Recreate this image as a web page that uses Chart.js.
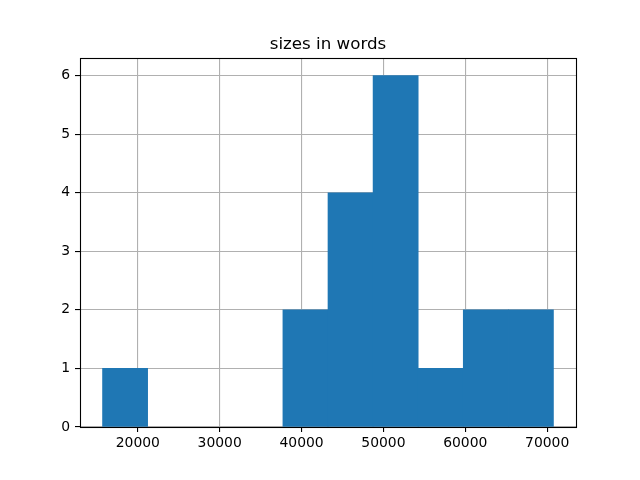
<!DOCTYPE html>
<html lang="en">
<head>
  <meta charset="UTF-8">
  <title>sizes in words</title>
  <script src="https://cdn.jsdelivr.net/npm/chart.js"></script>
  <style>
    body {
      margin: 0;
      padding: 0;
      background-color: white;
    }
    #chartContainer {
      width: 640px;
      height: 480px;
    }
  </style>
</head>
<body>

  <div id="chartContainer">
    <canvas id="histChart" width="640" height="480"></canvas>
  </div>

  <script>
    // histogram bins
    const binEdges = [15690, 21198, 26706, 32214, 37722, 43230, 48738, 54246, 59754, 65262, 70770];
    const binCounts = [1, 0, 0, 0, 2, 4, 6, 1, 2, 2];
    const xTicks = [20000, 30000, 40000, 50000, 60000, 70000];
    const yTicks = [0, 1, 2, 3, 4, 5, 6];
    const chartTitle = "sizes in words";

    // empty bins get no bar at all
    const points = binCounts.map((c, i) => ({
      x: (binEdges[i] + binEdges[i + 1]) / 2,
      y: c === 0 ? null : c
    }));

    Chart.defaults.color = '#000';
    Chart.defaults.font.family = "'DejaVu Sans', sans-serif";
    Chart.defaults.font.size = 13.9;

    // box round the plot like matplotlib spines, plus title centred on the axes
    const frame = {
      id: 'frame',
      afterDraw(chart) {
        const a = chart.chartArea;
        const ctx = chart.ctx;
        ctx.save();
        ctx.strokeStyle = '#000';
        ctx.lineWidth = 1.1;
        ctx.strokeRect(Math.round(a.left) + 0.5, Math.round(a.top) + 0.5,
          Math.round(a.right - a.left), Math.round(a.bottom - a.top));
        ctx.fillStyle = '#000';
        ctx.font = "16.7px 'DejaVu Sans', sans-serif";
        ctx.textAlign = 'center';
        ctx.textBaseline = 'alphabetic';
        ctx.fillText(chartTitle, (a.left + a.right) / 2, a.top - 9);
        ctx.restore();
      }
    };

    const span = binEdges[binEdges.length - 1] - binEdges[0];

    new Chart(document.getElementById('histChart'), {
      type: 'bar',
      data: {
        datasets: [{
          data: points,
          backgroundColor: '#1f77b4',
          borderWidth: 0,
          barPercentage: 1,
          categoryPercentage: 1
        }]
      },
      options: {
        responsive: false,
        animation: false,
        events: [],
        layout: {
          padding: { top: 58, right: 64, bottom: 0, left: 0 }
        },
        plugins: {
          legend: { display: false },
          tooltip: { enabled: false },
          title: { display: false }
        },
        scales: {
          x: {
            type: 'linear',
            offset: false,
            z: 1,
            min: binEdges[0] - span * 0.05,
            max: binEdges[binEdges.length - 1] + span * 0.05,
            afterBuildTicks: scale => { scale.ticks = xTicks.map(v => ({ value: v })); },
            afterFit: scale => { scale.height = 53; },
            grid: {
              offset: false,
              color: '#b0b0b0',
              lineWidth: 1.1,
              tickColor: '#000',
              tickLength: 5
            },
            border: { display: false },
            ticks: {
              padding: 3,
              maxRotation: 0,
              callback: v => String(v)
            }
          },
          y: {
            z: 1,
            min: 0,
            max: 6.3,
            afterBuildTicks: scale => { scale.ticks = yTicks.map(v => ({ value: v })); },
            afterFit: scale => { scale.width = 80; },
            grid: {
              color: '#b0b0b0',
              lineWidth: 1.1,
              tickColor: '#000',
              tickLength: 5
            },
            border: { display: false },
            ticks: {
              padding: 5,
              callback: v => String(v)
            }
          }
        }
      },
      plugins: [frame]
    });
  </script>
</body>
</html>
